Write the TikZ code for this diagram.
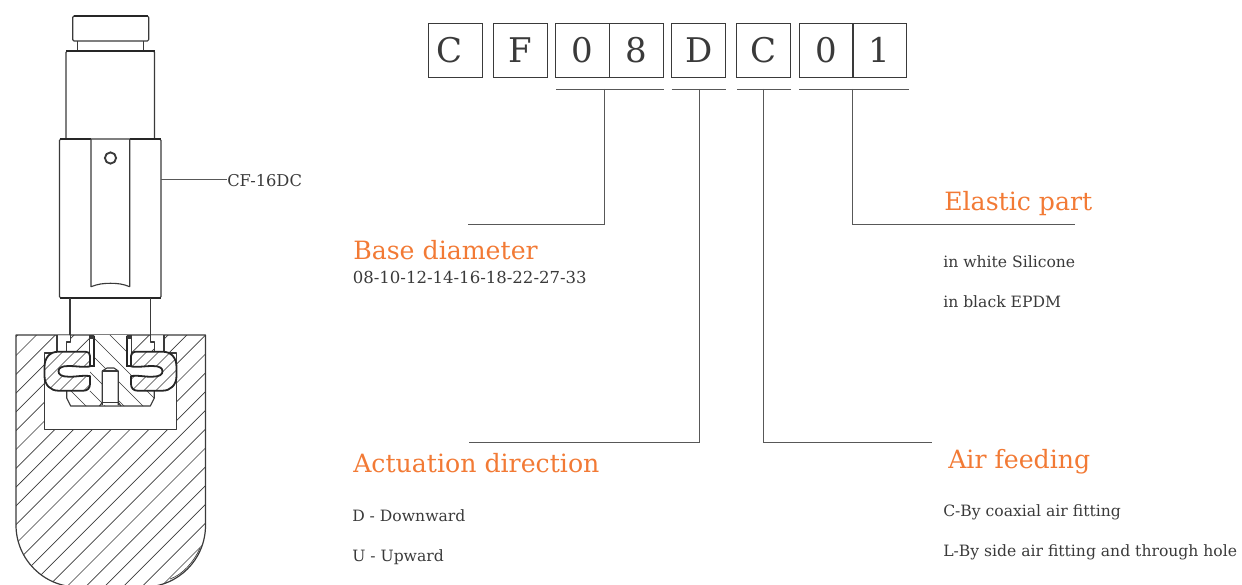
\documentclass[tikz,border=0pt]{standalone}
\usepackage{fontspec}
\setmainfont{DejaVu Serif}
\usetikzlibrary{positioning}

\definecolor{titleorange}{HTML}{F27A35}
\definecolor{inkgrey}{HTML}{3A3A3A}

\tikzset{
	part/.style={draw=inkgrey, line width=0.85pt, line join=round},
	heavy/.style={draw=black!85, line width=1.35pt},
	hatching/.style={draw=inkgrey, line width=0.5pt},
	codebox/.style={draw=inkgrey, line width=0.7pt, minimum width=40.5pt, minimum height=40.5pt, inner sep=0pt, text=inkgrey, font=\fontsize{25.5}{26}\selectfont},
	leader/.style={draw=inkgrey!85, line width=0.7pt},
	heading/.style={anchor=base west, inner sep=0pt, text=titleorange, font=\fontsize{18.9}{20}\selectfont},
	option/.style={anchor=base west, inner sep=0pt, text=inkgrey, font=\fontsize{11.7}{13}\selectfont}
}

% elastic ring, right hand side, measured from the axis
\newcommand{\ringpath}{(20.5,366.5) -- (20.5,356) .. controls (20.5,353) and (22,351.7) .. (25,351.7) -- (52,351.7) .. controls (61,351.7) and (66,358) .. (66,367) -- (66,376) .. controls (66,385) and (60,390.7) .. (52,390.7) -- (27,390.7) .. controls (23,390.7) and (20.5,388) .. (20.5,384) -- (20.5,376) .. controls (28,375) and (34,377) .. (42,376.7) .. controls (49,376.7) and (52,374.5) .. (52,371.3) .. controls (52,368) and (49,366) .. (42,366) .. controls (34,366) and (28,367.5) .. (20.5,366.5) -- cycle}
\newcommand{\seatpath}{(94.3,335) -- (94.3,366) -- (90,366) -- (90,391) -- (66.7,391) -- (66.7,398) -- (70.7,406) -- (150.3,406) -- (154.3,398) -- (154.3,391) -- (131,391) -- (131,366) -- (126.7,366) -- (126.7,335) -- cycle}
\newcommand{\shellpath}{(16,335) -- (16,525) arc[start angle=180, end angle=90, radius=62] -- (144,587) arc[start angle=90, end angle=0, radius=61.5] -- (205.5,335) -- cycle}

\begin{document}
\begin{tikzpicture}[x=0.75pt, y=-0.75pt]
	\useasboundingbox (0,0) rectangle (1242,585);

	% cylinder, outside view
	\draw[part, rounded corners=1pt] (72.7,16) rectangle (148.7,41);
	\draw[heavy] (73.5,16) -- (148,16);
	\draw[part] (77.5,41) -- (77.5,51);
	\draw[part] (143.7,41) -- (143.7,51);
	\draw[part, rounded corners=1pt] (66,139) -- (66,51) -- (154.5,51) -- (154.5,139);
	\draw[part, rounded corners=1pt] (59.5,139) rectangle (161,298);
	\draw[heavy] (66,51) -- (154.5,51);
	\draw[heavy] (59.5,139) -- (91,139);
	\draw[heavy] (129.7,139) -- (161,139);
	\draw[heavy] (59.5,298) -- (161,298);
	\draw[part] (91,139) -- (91,286.7) .. controls (98,284) and (103,283.3) .. (110.5,283.3) .. controls (118,283.3) and (123,284) .. (129.7,286.7) -- (129.7,139);
	\draw[draw=inkgrey, line width=1.4pt] (110.5,158) circle (5.6);
	\draw[part] (70,298) -- (70,336);
	\draw[part] (150.5,298) -- (150.5,336);

	% label of the cylinder
	\node[option, font=\fontsize{12.2}{13}\selectfont] (cflabel) at (227,186) {CF-16DC};
	\coordinate (cfbody) at (161,179);
	\draw[leader] (cfbody) -- (cflabel.west |- cfbody);

	% section of the shell
	\begin{scope}
		\clip \shellpath;
		\foreach \c in {352.7,371.5,...,810} {
			\draw[hatching] ({\c-330},330) -- ({\c-600},600);
		}
	\end{scope}
	\draw[part, line width=0.9pt] \shellpath;
	\draw[hatching] (170,579) .. controls (182,575) and (194,562) .. (200,548);
	\draw[part, fill=white] (44.5,353) rectangle (176.5,429.5);

	% seat in the middle
	\fill[white] \seatpath;
	\begin{scope}
		\clip \seatpath;
		\foreach \d in {-339,-320,...,-200} {
			\draw[hatching] ({\d+330},330) -- ({\d+420},420);
		}
	\end{scope}
	\draw[part] (66.7,391) -- (66.7,398) -- (70.7,406) -- (150.3,406) -- (154.3,398) -- (154.3,391);

	% both sides of the seat
	\foreach \flip in {-1,1} {
		\begin{scope}[shift={(110.5,0)}, xscale=\flip]
			\fill[white] (16.2,335) -- (16.2,366) -- (20.5,366) -- (20.5,335) -- cycle;
			\fill[white] (40.5,335.4) -- (40.5,342) -- (43.8,342) -- (43.8,351.7) -- (53.5,351.7) -- (53.5,335.4) -- cycle;
			\draw[part] (40,298) -- (40,342) -- (43.8,342) -- (43.8,352);
			\draw[part] (53.5,335) -- (53.5,352);
			\draw[part] (21.2,336.5) -- (21.2,352);
			\draw[heavy] (16.2,335.5) -- (16.2,366) -- (21,366);
			\fill[inkgrey] (16.2,335.2) rectangle (21.2,338.5);
			% elastic ring
			\fill[white] \ringpath;
			\begin{scope}
				\clip \ringpath;
				\foreach \k in {-30,-18,...,110} {
					\draw[hatching] ({\k-60*\flip},430) -- ({\k+60*\flip},310);
				}
			\end{scope}
			\draw[heavy, line join=round] \ringpath;
		\end{scope}
	}

	% pin
	\draw[part, fill=white] (102.3,405) -- (102.3,371) -- (107,368) -- (114,368) -- (118.3,371) -- (118.3,405);
	\draw[part] (102.3,371) -- (118.3,371);
	\draw[part] (102.3,402.5) -- (118.3,402.5);
	\draw[part] (99.5,406) -- (102.3,402.5);
	\draw[part] (121,406) -- (118.3,402.5);

	% code boxes
	\node[codebox] (boxc) at (455,50) {C\kern 8.5pt};
	\node[codebox] (boxf) at (520,50) {F};
	\node[codebox] (boxdiaa) at (582.8,50) {0};
	\node[codebox] (boxdiab) at (636.2,50) {8};
	\node[codebox] (boxdir) at (698.8,50) {D};
	\node[codebox] (boxair) at (763,50) {C};
	\node[codebox] (boxela) at (826,50) {0};
	\node[codebox] (boxelb) at (879.8,50) {1};

	% brackets under the boxes
	\coordinate (diaa) at (556,89);
	\coordinate (diab) at (663.5,89);
	\coordinate (dira) at (671.5,89);
	\coordinate (dirb) at (726,89);
	\coordinate (aira) at (737,89);
	\coordinate (airb) at (791,89);
	\coordinate (elaa) at (799,89);
	\coordinate (elab) at (909,89);
	\draw[leader] (diaa) -- (diab);
	\draw[leader] (dira) -- (dirb);
	\draw[leader] (aira) -- (airb);
	\draw[leader] (elaa) -- (elab);

	% free ends of the leaders
	\coordinate (diastem) at (604.5,89);
	\coordinate (dirstem) at (699,89);
	\coordinate (airstem) at (763,89);
	\coordinate (elastem) at (852,89);
	\coordinate (diaend) at (468,224);
	\coordinate (dirend) at (469,442);
	\coordinate (airend) at (932,442);
	\coordinate (elaend) at (1075,224);
	\draw[leader] (diastem) |- (diaend);
	\draw[leader] (dirstem) |- (dirend);
	\draw[leader] (airstem) |- (airend);
	\draw[leader] (elastem) |- (elaend);

	% texts
	\node[heading] (diatitle) at (353,259) {Base diameter};
	\node[option, font=\fontsize{12.4}{13}\selectfont] (diatext) at (352.5,283.5) {08-10-12-14-16-18-22-27-33};
	\node[heading] (dirtitle) at (353,472) {Actuation direction};
	\node[option] (dirdown) at (352,521) {D - Downward};
	\node[option] (dirup) at (352,561) {U - Upward};
	\node[heading] (elatitle) at (944,210) {Elastic part};
	\node[option] (elawhite) at (943,267) {in white Silicone};
	\node[option] (elablack) at (943,307) {in black EPDM};
	\node[heading] (airtitle) at (948,468) {Air feeding};
	\node[option] (aircoax) at (943,516) {C-By coaxial air fitting};
	\node[option] (airside) at (943,556) {L-By side air fitting and through hole};
\end{tikzpicture}
\end{document}
